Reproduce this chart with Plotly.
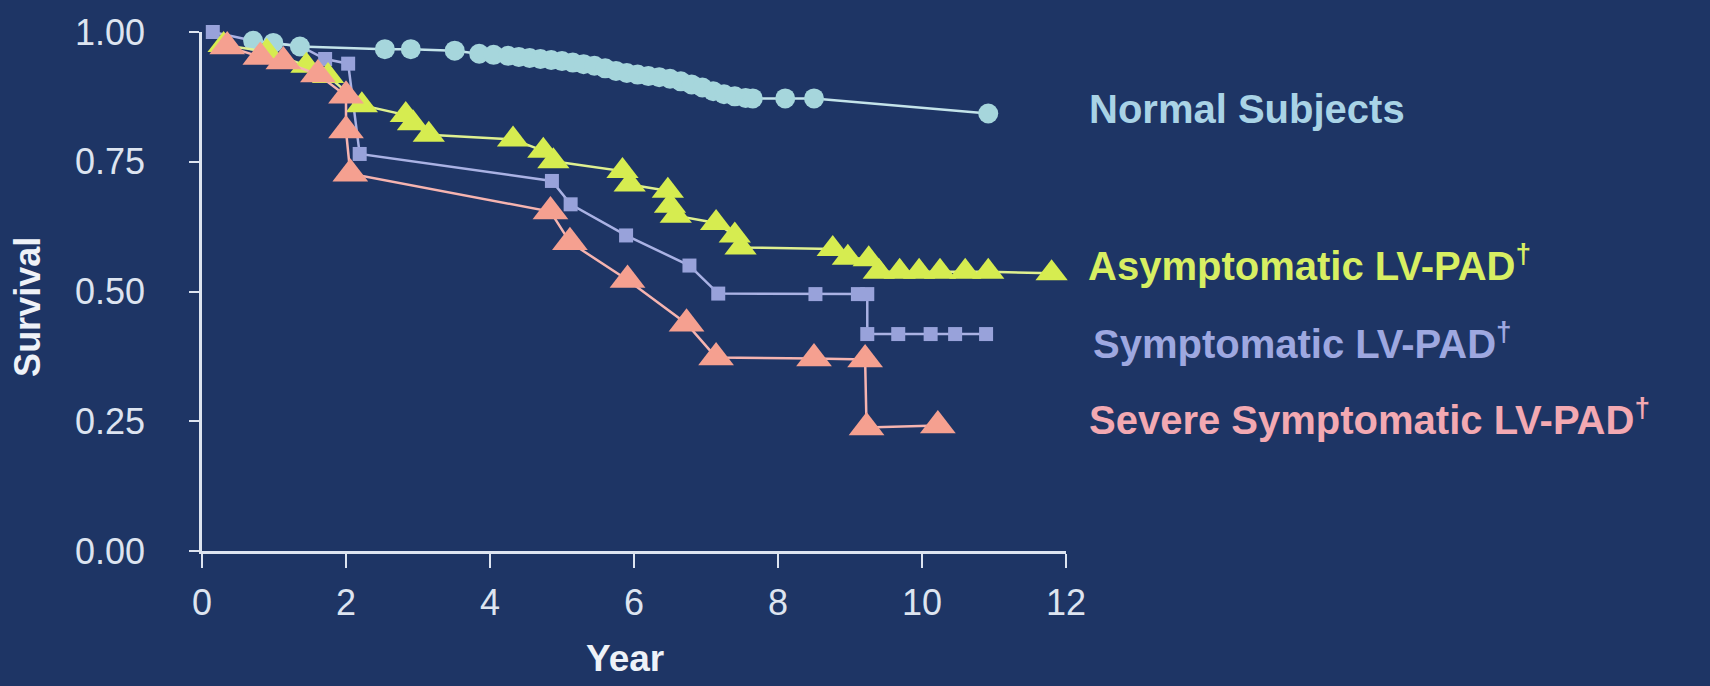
import plotly.graph_objects as go

# ---------------- data ----------------
normal_t = [0.71, 0.99, 1.36, 2.54, 2.90, 3.51, 3.85, 4.05, 4.25, 4.40, 4.55, 4.70, 4.85, 5.00,
            5.15, 5.30, 5.45, 5.60, 5.75, 5.90, 6.05, 6.20, 6.35, 6.50, 6.65, 6.80, 6.95, 7.10,
            7.25, 7.40, 7.55, 7.65, 8.10, 8.50, 10.92]
normal_s = [0.983, 0.979, 0.972, 0.967, 0.967, 0.964, 0.958, 0.956, 0.954, 0.952, 0.950, 0.948,
            0.946, 0.944, 0.941, 0.938, 0.935, 0.930, 0.925, 0.921, 0.918, 0.915, 0.913, 0.910,
            0.905, 0.899, 0.893, 0.886, 0.880, 0.876, 0.873, 0.872, 0.872, 0.872, 0.843]

asym_t = [0.30, 0.90, 1.45, 1.75, 2.22, 2.83, 2.93, 3.15, 4.32, 4.74, 4.88, 5.84, 5.94, 6.47,
          6.50, 6.58, 7.14, 7.40, 7.48, 8.76, 8.97, 9.26, 9.40, 9.69, 9.96, 10.25, 10.60, 10.92, 11.80]
asym_s = [0.975, 0.962, 0.935, 0.915, 0.859, 0.840, 0.824, 0.802, 0.793, 0.771, 0.751, 0.732,
          0.706, 0.694, 0.665, 0.646, 0.632, 0.608, 0.585, 0.582, 0.565, 0.562, 0.538, 0.538,
          0.538, 0.538, 0.538, 0.538, 0.535]

sym_t = [0.15, 0.71, 1.36, 1.71, 2.03, 2.19, 4.86, 5.12, 5.89, 6.77, 7.17, 8.52, 9.11, 9.24,
         9.24, 9.67, 10.12, 10.46, 10.89]
sym_s = [1.000, 0.983, 0.973, 0.948, 0.939, 0.765, 0.713, 0.668, 0.608, 0.550, 0.496, 0.495,
         0.495, 0.495, 0.418, 0.418, 0.418, 0.418, 0.418]

sev_t = [0.35, 0.81, 1.13, 1.61, 2.00, 2.00, 2.06, 4.84, 5.11, 5.91, 6.73, 7.14, 8.50, 9.21,
         9.23, 10.22]
sev_s = [0.972, 0.952, 0.943, 0.918, 0.877, 0.810, 0.727, 0.654, 0.595, 0.522, 0.438, 0.373,
         0.371, 0.369, 0.238, 0.242]

x_ticks = [0, 2, 4, 6, 8, 10, 12]
y_ticks = [0.0, 0.25, 0.50, 0.75, 1.00]
y_tick_text = ["0.00", "0.25", "0.50", "0.75", "1.00"]

labels = ["Normal Subjects", "Asymptomatic LV-PAD<sup>†</sup>",
          "Symptomatic LV-PAD<sup>†</sup>", "Severe Symptomatic LV-PAD<sup>†</sup>"]

# ---------------- style ----------------
BG = "#1e3565"
AX = "#dde4f0"
FONT = "Liberation Sans, Arial, sans-serif"
C_NORMAL = "#a6d6dc"
C_ASYM = "#d6ec50"
C_SYM = "#98a2da"
C_SEV = "#f5a090"

fig = go.Figure()

fig.add_trace(go.Scatter(x=sym_t, y=sym_s, mode="lines+markers", cliponaxis=False,
                         line=dict(color="#aab2e4", width=2.5),
                         marker=dict(symbol="square", size=14, color=C_SYM)))
fig.add_trace(go.Scatter(x=normal_t, y=normal_s, mode="lines+markers", cliponaxis=False,
                         line=dict(color="#c4e4ea", width=2.5),
                         marker=dict(symbol="circle", size=20, color=C_NORMAL)))
fig.add_trace(go.Scatter(x=asym_t, y=asym_s, mode="lines+markers", cliponaxis=False,
                         line=dict(color="#dff090", width=2.5),
                         marker=dict(symbol="triangle-up", size=28, color=C_ASYM)))
fig.add_trace(go.Scatter(x=sev_t, y=sev_s, mode="lines+markers", cliponaxis=False,
                         line=dict(color="#f6b4b0", width=2.5),
                         marker=dict(symbol="triangle-up", size=31, color=C_SEV)))

L, R, T, B = 202, 1066, 28, 551
W, H = 1710, 686

def px(xp):
    return (xp - L) / (R - L)

def py(yp):
    return (B - yp) / (B - T)

annos = [
    dict(text=labels[0], x=px(1087), y=py(106), color="#a9d3e6"),
    dict(text=labels[1], x=px(1086), y=py(261), color="#d8ef62"),
    dict(text=labels[2], x=px(1091), y=py(339), color="#9ea8e0"),
    dict(text=labels[3], x=px(1087), y=py(416), color="#f3a9b2"),
]
for a in annos:
    fig.add_annotation(text=a["text"], x=a["x"], y=a["y"], xref="paper", yref="paper",
                       xanchor="left", yanchor="middle", showarrow=False,
                       font=dict(family=FONT, size=40, color=a["color"], weight="bold"))

fig.add_annotation(text="Survival", x=px(28), y=py(305), xref="paper", yref="paper",
                   textangle=-90, showarrow=False, xanchor="center", yanchor="middle",
                   font=dict(family=FONT, size=36, color="#eef2f8", weight="bold"))
fig.add_annotation(text="Year", x=px(625), y=py(659), xref="paper", yref="paper",
                   showarrow=False, xanchor="center", yanchor="middle",
                   font=dict(family=FONT, size=37, color="#eef2f8", weight="bold"))

fig.update_layout(
    width=W, height=H,
    margin=dict(l=L, r=W - R, t=T, b=H - B, pad=0),
    paper_bgcolor=BG, plot_bgcolor=BG,
    showlegend=False,
    font=dict(family=FONT, color=AX),
    xaxis=dict(range=[0, 12], tickvals=x_ticks, showgrid=False, zeroline=False,
               showline=True, linecolor=AX, linewidth=2.5,
               ticks="outside", ticklen=14, tickwidth=2, tickcolor=AX,
               ticklabelstandoff=4,
               tickfont=dict(family=FONT, size=36, color=AX)),
    yaxis=dict(range=[0, 1], tickvals=y_ticks, ticktext=y_tick_text, showgrid=False,
               zeroline=False, showline=True, linecolor=AX, linewidth=2.5,
               ticks="outside", ticklen=10, tickwidth=2, tickcolor=AX,
               ticklabelstandoff=37,
               tickfont=dict(family=FONT, size=36, color=AX)),
)

fig.write_html("out.html",
               config={"displayModeBar": False},
               post_script="document.body.style.margin='0px';"
                           "document.body.style.background='" + BG + "';")
